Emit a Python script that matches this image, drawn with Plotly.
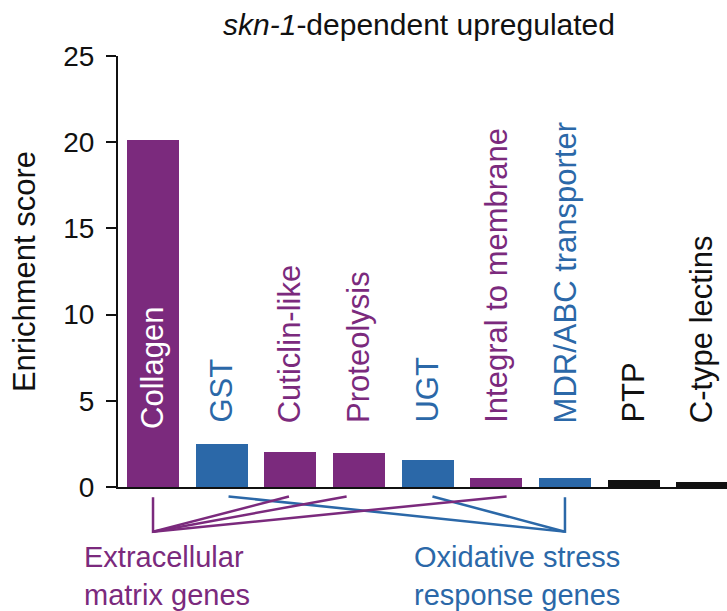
import plotly.graph_objects as go

# ---- data ----
categories = ["Collagen", "GST", "Cuticlin-like", "Proteolysis", "UGT",
              "Integral to membrane", "MDR/ABC transporter", "PTP", "C-type lectins"]
scores = [20.1, 2.5, 2.05, 1.95, 1.58, 0.54, 0.54, 0.42, 0.3]
groups = ["ecm", "ox", "ecm", "ecm", "ox", "ecm", "ox", "other", "other"]

group_names = {"ecm": "Extracellular<br>matrix genes",
               "ox": "Oxidative stress<br>response genes"}
group_hub = {"ecm": "Collagen", "ox": "MDR/ABC transporter"}

y_ticks = [0, 5, 10, 15, 20, 25]

# ---- style ----
PURPLE = "#7b2a7d"
BLUE = "#2b68a8"
BLACK = "#111111"
colors = {"ecm": PURPLE, "ox": BLUE, "other": BLACK}
FONT = "Liberation Sans, Arial, Helvetica, sans-serif"
FS = 28
LABEL_FS = 31

x_idx = list(range(len(categories)))
bar_colors = [colors[g] for g in groups]

fig = go.Figure()
fig.add_trace(go.Bar(x=x_idx, y=scores, marker=dict(color=bar_colors, line=dict(width=0)),
                     width=0.76, showlegend=False, hoverinfo="skip"))

# bracket lines connecting each group hub to its members (drawn on lower axis)
nudge = {"GST": 0.1, "Cuticlin-like": -0.02, "Proteolysis": -0.18, "UGT": 0.07,
         "Integral to membrane": 0.15}
TOP, VERT = -0.55, -2.6
for g in ["ox", "ecm"]:
    hub = categories.index(group_hub[g])
    xs, ys = [hub, hub], [TOP - 0.05, VERT]
    for i, c in enumerate(categories):
        if groups[i] == g and i != hub:
            xs += [i + nudge.get(c, 0), None, hub]
            ys += [TOP, None, VERT]
    fig.add_trace(go.Scatter(x=xs, y=ys, yaxis="y2", mode="lines",
                             line=dict(color=colors[g], width=2.5),
                             showlegend=False, hoverinfo="skip", connectgaps=False))

# rotated category labels
for i, c in enumerate(categories):
    inside = c == "Collagen"
    fig.add_annotation(x=i, y=3.25 if inside else 3.6, xref="x", yref="y",
                       text=c, textangle=-90, showarrow=False,
                       xanchor="center", yanchor="bottom",
                       font=dict(family=FONT, size=LABEL_FS,
                                 color="white" if inside else colors[groups[i]]))

# group labels
fig.add_annotation(x=(82 - 118) / 609, y=-3.05, xref="paper", yref="y2",
                   text=group_names["ecm"],
                   showarrow=False, xanchor="left", yanchor="top", align="left",
                   font=dict(family=FONT, size=29, color=PURPLE))
fig.add_annotation(x=3.77, y=-3.05, xref="x", yref="y2", text=group_names["ox"],
                   showarrow=False, xanchor="left", yanchor="top", align="left",
                   font=dict(family=FONT, size=29, color=BLUE))

split = (611 - 487) / 555

fig.update_layout(
    width=727, height=611,
    margin=dict(l=118, r=0, t=56, b=0, autoexpand=False),
    plot_bgcolor="white", paper_bgcolor="white",
    font=dict(family=FONT, size=FS, color=BLACK),
    title=dict(text="<i>skn-1</i>-dependent upregulated", x=419 / 727, xref="container",
               xanchor="center", y=1 - 24 / 611, yref="container", yanchor="middle",
               font=dict(family=FONT, size=30, color=BLACK)),
    bargap=0,
    xaxis=dict(range=[-0.51, 8.36], showline=True, linewidth=2, linecolor=BLACK,
               showticklabels=False, ticks="", showgrid=False, zeroline=False,
               anchor="y", automargin=False),
    yaxis=dict(domain=[split, 1], range=[0, 25], tickvals=y_ticks,
               showline=True, linewidth=2, linecolor=BLACK,
               ticks="outside", ticklen=10, tickwidth=2, tickcolor=BLACK,
               ticklabelstandoff=6, automargin=False,
               showgrid=False, zeroline=False,
               tickfont=dict(family=FONT, size=FS, color=BLACK),
               title=dict(text="Enrichment score", standoff=18,
                          font=dict(family=FONT, size=31, color=BLACK))),
    yaxis2=dict(domain=[0, split], range=[-7.21, 0], visible=False, anchor="x"),
)

fig.write_html("out.html", config={"displayModeBar": False},
               post_script="document.body.style.margin='0';document.body.style.overflow='hidden';")
